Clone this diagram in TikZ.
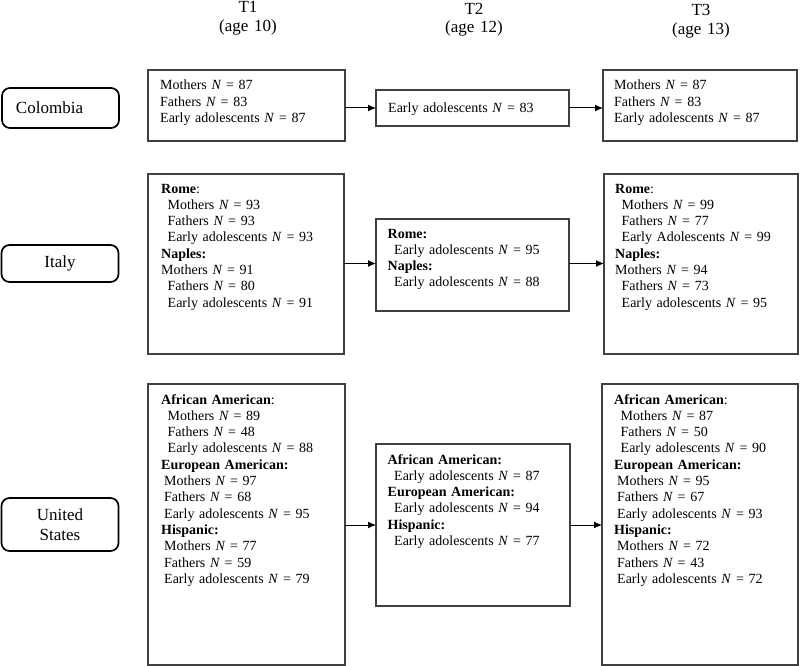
\documentclass[tikz,border=0pt]{standalone}
\usepackage{fontspec}
\setmainfont{Liberation Serif}
\usetikzlibrary{arrows.meta}
\newcommand\indA{\hspace*{6.5pt}}
\newcommand\indB{\hspace*{3pt}}
\newcommand\NN{\textit{N}}
\begin{document}
\begin{tikzpicture}[x=1pt,y=-1pt,
  dbox/.style={draw=black!75,line width=1.3pt,anchor=north west,inner sep=0pt,outer sep=0pt},
  txt/.style={anchor=base west,inner sep=0pt,text width=185pt,align=left,
    font=\fontsize{14pt}{16.3pt}\selectfont},
  cbox/.style={draw=black,line width=1.7pt,rounded corners=8pt,inner xsep=14pt,inner ysep=0pt,
    text width=89pt,font=\fontsize{17pt}{20pt}\selectfont},
  hdr/.style={anchor=base,inner sep=0pt,text width=90pt,align=center,
    font=\fontsize{17pt}{18.5pt}\selectfont},
  arr/.style={line width=1pt,-{Latex[length=8pt,width=7pt]}}]
\useasboundingbox (0,0) rectangle (800,666);

% headers
\node[hdr] (h1) at (248,13) {T1\\(age 10)};
\node[hdr] (h2) at (474,14.5) {T2\\(age 12)};
\node[hdr] (h3) at (701,16) {T3\\(age 13)};

% country boxes
\node[cbox,align=left,minimum height=40pt] (col) at (60.5,108) {Colombia};
\node[cbox,align=center,minimum height=37pt] (ita) at (60,263.5) {Italy};
\node[cbox,align=center,minimum height=53pt] (usa) at (60,524.5) {United\\States};

% data boxes
\node[dbox,minimum width=197pt,minimum height=71pt] (c1) at (148,70) {};
\node[dbox,minimum width=193pt,minimum height=36pt] (c2) at (376,90) {};
\node[dbox,minimum width=194pt,minimum height=71pt] (c3) at (603,70) {};
\node[dbox,minimum width=196pt,minimum height=180pt] (i1) at (148,174) {};
\node[dbox,minimum width=193pt,minimum height=92pt] (i2) at (376,219) {};
\node[dbox,minimum width=194pt,minimum height=180pt] (i3) at (604,174) {};
\node[dbox,minimum width=197pt,minimum height=281pt] (u1) at (148,384) {};
\node[dbox,minimum width=194pt,minimum height=162pt] (u2) at (376,444) {};
\node[dbox,minimum width=196pt,minimum height=281pt] (u3) at (602,384) {};

% texts
\node[txt] (c1t) at ([shift={(12pt,-20pt)}]c1.north west)
  {Mothers \NN{} = 87\\Fathers \NN{} = 83\\Early adolescents \NN{} = 87};
\node[txt] (c2t) at ([shift={(12pt,-23pt)}]c2.north west)
  {Early adolescents \NN{} = 83};
\node[txt] (c3t) at ([shift={(11pt,-20pt)}]c3.north west)
  {Mothers \NN{} = 87\\Fathers \NN{} = 83\\Early adolescents \NN{} = 87};

\node[txt] (i1t) at ([shift={(13pt,-19pt)}]i1.north west)
  {\textbf{Rome}:\\\indA Mothers \NN{} = 93\\\indA Fathers \NN{} = 93\\\indA Early adolescents \NN{} = 93\\
   \textbf{Naples:}\\Mothers \NN{} = 91\\\indA Fathers \NN{} = 80\\\indA Early adolescents \NN{} = 91};
\node[txt] (i2t) at ([shift={(11.5pt,-19pt)}]i2.north west)
  {\textbf{Rome:}\\\indA Early adolescents \NN{} = 95\\\textbf{Naples:}\\\indA Early adolescents \NN{} = 88};
\node[txt] (i3t) at ([shift={(11pt,-19pt)}]i3.north west)
  {\textbf{Rome}:\\\indA Mothers \NN{} = 99\\\indA Fathers \NN{} = 77\\\indA Early Adolescents \NN{} = 99\\
   \textbf{Naples:}\\Mothers \NN{} = 94\\\indA Fathers \NN{} = 73\\\indA Early adolescents \NN{} = 95};

\node[txt] (u1t) at ([shift={(13pt,-20pt)}]u1.north west)
  {\textbf{African American}:\\\indA Mothers \NN{} = 89\\\indA Fathers \NN{} = 48\\\indA Early adolescents \NN{} = 88\\
   \textbf{European American:}\\\indB Mothers \NN{} = 97\\\indB Fathers \NN{} = 68\\\indB Early adolescents \NN{} = 95\\
   \textbf{Hispanic:}\\\indB Mothers \NN{} = 77\\\indB Fathers \NN{} = 59\\\indB Early adolescents \NN{} = 79};
\node[txt] (u2t) at ([shift={(11.5pt,-20pt)}]u2.north west)
  {\textbf{African American:}\\\indA Early adolescents \NN{} = 87\\\textbf{European American:}\\\indA Early adolescents \NN{} = 94\\
   \textbf{Hispanic:}\\\indA Early adolescents \NN{} = 77};
\node[txt] (u3t) at ([shift={(12pt,-20pt)}]u3.north west)
  {\textbf{African American}:\\\indA Mothers \NN{} = 87\\\indA Fathers \NN{} = 50\\\indA Early adolescents \NN{} = 90\\
   \textbf{European American:}\\\indB Mothers \NN{} = 95\\\indB Fathers \NN{} = 67\\\indB Early adolescents \NN{} = 93\\
   \textbf{Hispanic:}\\\indB Mothers \NN{} = 72\\\indB Fathers \NN{} = 43\\\indB Early adolescents \NN{} = 72};

% arrows
\draw[arr] (c1.east |- c2.west) -- (c2.west);
\draw[arr] (c2.east) -- (c3.west |- c2.east);
\draw[arr] (i1.east |- ita.east) -- (i2.west |- ita.east);
\draw[arr] (i2.east |- ita.east) -- (i3.west |- ita.east);
\draw[arr] (u1.east |- u2.west) -- (u2.west);
\draw[arr] (u2.east) -- (u3.west |- u2.east);
\end{tikzpicture}
\end{document}
